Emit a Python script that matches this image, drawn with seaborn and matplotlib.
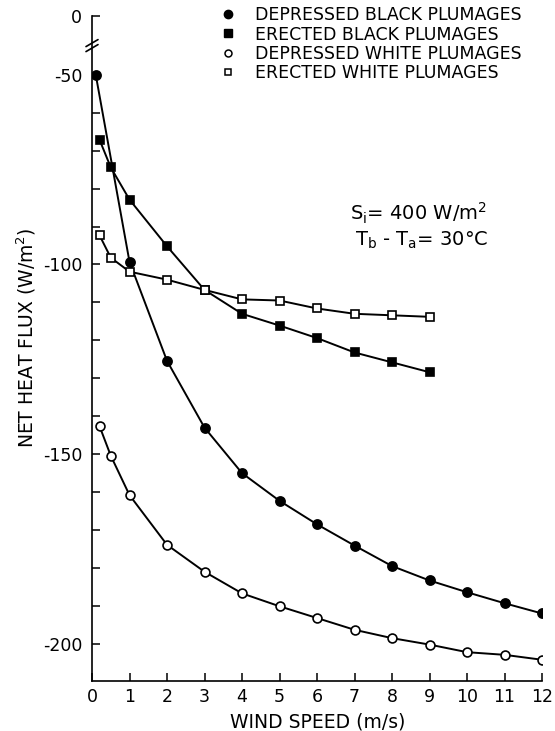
import numpy as np
import pandas as pd
import matplotlib
matplotlib.use("Agg")
import matplotlib.pyplot as plt
from matplotlib.lines import Line2D
from matplotlib.transforms import IdentityTransform
import seaborn as sns

# ---------------- data ----------------
x_dep_black = [0.1, 1, 2, 3, 4, 5, 6, 7, 8, 9, 10, 11, 12]
y_dep_black = [-50.0, -99.3, -125.4, -143.0, -155.0, -162.3, -168.5, -174.1,
               -179.5, -183.3, -186.4, -189.3, -192.0]

x_ere_black = [0.2, 0.5, 1, 2, 3, 4, 5, 6, 7, 8, 9]
y_ere_black = [-67.1, -74.4, -82.9, -95.2, -106.7, -113.0, -116.1, -119.4,
               -123.2, -125.8, -128.4]

x_dep_white = [0.2, 0.5, 1, 2, 3, 4, 5, 6, 7, 8, 9, 10, 11, 12]
y_dep_white = [-142.6, -150.4, -160.8, -173.9, -181.0, -186.7, -190.1, -193.2,
               -196.3, -198.5, -200.2, -202.2, -202.9, -204.2]

x_ere_white = [0.2, 0.5, 1, 2, 3, 4, 5, 6, 7, 8, 9]
y_ere_white = [-92.3, -98.2, -101.9, -104.0, -106.7, -109.2, -109.5, -111.6,
               -113.0, -113.4, -113.8]

labels = ["DEPRESSED BLACK PLUMAGES", "ERECTED BLACK PLUMAGES",
          "DEPRESSED WHITE PLUMAGES", "ERECTED WHITE PLUMAGES"]

x_ticks = list(range(0, 13))
x_ticklabels = [str(v) for v in x_ticks]
y_major = [-200, -150, -100, -50]
y_major_labels = ["-200", "-150", "-100", "-50"]
y_minor = list(range(-190, -50, 10))
y_top_label = "0"

# ---------------- style ----------------
sns.set_style("ticks")
plt.rcParams["font.family"] = ["DejaVu Sans"]
plt.rcParams["mathtext.default"] = "regular"
plt.rcParams["axes.unicode_minus"] = False
plt.rcParams["text.color"] = "black"
plt.rcParams["axes.labelcolor"] = "black"
plt.rcParams["xtick.color"] = "black"
plt.rcParams["ytick.color"] = "black"

fig = plt.figure(figsize=(5.55, 7.31), dpi=100)
W, H = 555, 731
ax_left, ax_right, ax_top, ax_bottom = 92, 542, 16, 681
ax = fig.add_axes([ax_left / W, 1 - ax_bottom / H,
                   (ax_right - ax_left) / W, (ax_bottom - ax_top) / H])

Y_LOW, Y_TOP = -209.8, -34.5

series = [
    (x_dep_black, y_dep_black, "o", "black", 6.6),
    (x_ere_black, y_ere_black, "s", "black", 6.2),
    (x_dep_white, y_dep_white, "o", "white", 6.4),
    (x_ere_white, y_ere_white, "s", "white", 6.2),
]
for (xs, ys, mk, fc, ms), lab in zip(series, labels):
    df = pd.DataFrame({"x": xs, "y": ys})
    sns.lineplot(data=df, x="x", y="y", ax=ax, color="black", lw=1.4,
                 marker=mk, markersize=ms, markerfacecolor=fc,
                 markeredgecolor="black", markeredgewidth=1.2,
                 sort=False, label=lab, legend=False, zorder=3)

ax.set_xlim(0, 12)
ax.set_ylim(Y_LOW, Y_TOP)

for s in ["top", "right"]:
    ax.spines[s].set_visible(False)
for s in ["left", "bottom"]:
    ax.spines[s].set_linewidth(1.2)
    ax.spines[s].set_color("black")

ax.set_xticks(x_ticks)
ax.set_xticklabels(x_ticklabels)
ax.set_yticks(y_major + [Y_TOP])
ax.set_yticklabels(y_major_labels + [y_top_label])
ax.set_yticks(y_minor, minor=True)
ax.tick_params(axis="both", which="both", direction="in", length=6,
               width=1.1, color="black", labelsize=12.5, labelcolor="black")
ax.tick_params(axis="y", which="major", pad=7)
ax.tick_params(axis="x", which="major", pad=5)

ax.set_xlabel("WIND SPEED (m/s)", fontsize=13.5, color="black")
ax.set_ylabel("NET HEAT FLUX (W/m$^2$)", fontsize=13.5, color="black")
ax.xaxis.set_label_coords((318 - ax_left) / (ax_right - ax_left),
                          -(712 - ax_bottom) / (ax_bottom - ax_top))
ax.yaxis.set_label_coords(-(ax_left - 38) / (ax_right - ax_left),
                          (ax_bottom - 338) / (ax_bottom - ax_top))

# axis break marks on the y spine
fig.canvas.draw()
bx, by = ax.transData.transform((0, -42.3))
for dy in (-2.5, 2.5):
    ln = Line2D([bx - 6, bx + 6], [by + dy - 3.5, by + dy + 3.5],
                transform=IdentityTransform(), color="black", lw=1.2,
                clip_on=False)
    fig.add_artist(ln)

# annotation
fig.text(350 / W, 1 - 213 / H, "S$_i$= 400 W/m$^2$", fontsize=14,
         ha="left", va="center", color="black")
fig.text(355 / W, 1 - 240 / H, "T$_b$ - T$_a$= 30°C", fontsize=14,
         ha="left", va="center", color="black")

# legend (markers only)
handles = [
    Line2D([], [], ls="none", marker="o", color="black", markersize=6),
    Line2D([], [], ls="none", marker="s", color="black", markersize=5.5),
    Line2D([], [], ls="none", marker="o", markerfacecolor="white",
           markeredgecolor="black", markersize=5, markeredgewidth=1.1),
    Line2D([], [], ls="none", marker="s", markerfacecolor="white",
           markeredgecolor="black", markersize=5, markeredgewidth=1.1),
]
fs = 12.5
em = fs * 100 / 72
hl = 1.0
leg = fig.legend(handles, labels, loc="upper left", frameon=False, fontsize=fs,
                 handlelength=hl, handletextpad=(255 - 228 - hl * em / 2) / em,
                 labelspacing=0.06, borderpad=0, borderaxespad=0,
                 bbox_to_anchor=((228 - hl * em / 2) / W, 1 - 6.5 / H))
for t in leg.get_texts():
    t.set_color("black")

fig.savefig("out.png", dpi=100)
